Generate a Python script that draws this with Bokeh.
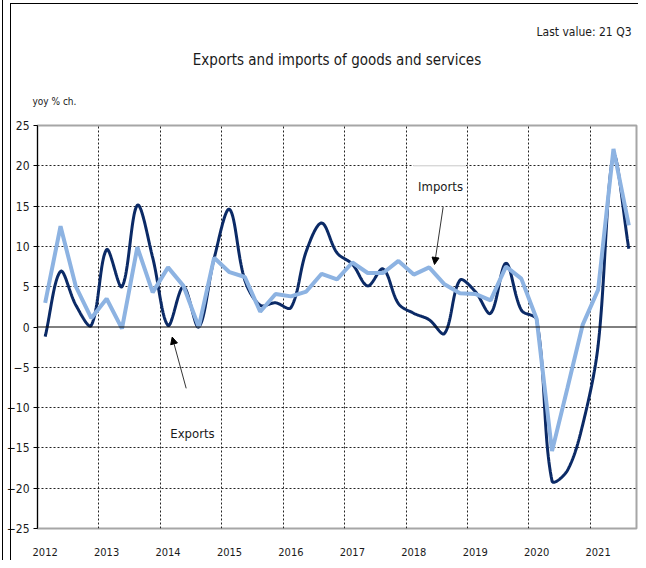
import numpy as np
from bokeh.plotting import figure
from bokeh.models import (Range1d, FixedTicker, Span, Label, Arrow, NormalHead, Title,
                          InlineStyleSheet)
from bokeh.embed import file_html
from bokeh.resources import INLINE

# ---- data (quarterly, 2012 Q1 .. 2021 Q3) ----
years = ["2012", "2013", "2014", "2015", "2016", "2017", "2018", "2019", "2020", "2021"]
exports = [-1.2, 6.9, 2.7, 0.2, 9.6, 5.0, 15.1, 8.6, 0.2, 5.0,
           0.0, 8.5, 14.6, 5.8, 2.7, 3.0, 2.4, 9.4, 12.9, 9.2,
           7.8, 5.1, 7.2, 2.9, 1.7, 0.9, -0.8, 5.8, 4.4, 1.7,
           7.9, 2.1, 0.9, -19.1, -17.8, -12.1, -2.3, 21.2, 9.7]
imports = [3.0, 12.5, 5.0, 1.1, 3.5, -0.2, 9.9, 4.3, 7.4, 5.1,
           0.0, 8.6, 6.8, 6.2, 1.9, 4.1, 3.8, 4.4, 6.6, 5.9,
           8.0, 6.7, 6.7, 8.2, 6.5, 7.4, 5.3, 4.2, 4.1, 3.3,
           7.5, 6.0, 1.0, -15.4, -7.6, 0.3, 4.6, 22.1, 12.6]
y_ticks = [-25, -20, -15, -10, -5, 0, 5, 10, 15, 20, 25]

FONT = "'DejaVu Sans Condensed', 'Liberation Sans', sans-serif"
NAVY = "#0b2a66"
LIGHT = "#8db3e2"
TXT = "#1a1a1a"

n = len(exports)
q = np.arange(n, dtype=float)

# pixel scale used only for the smoothing geometry (Excel-like)
SX, SY = 15.36, 8.06


def smooth(xs, ys, steps=30):
    """Bezier smoothing through every point, control arms scaled by segment lengths."""
    X = np.asarray(xs, float) * SX
    Y = np.asarray(ys, float) * SY
    P = np.stack([X, Y], axis=1)
    m = len(P)
    ctrl_after, ctrl_before = [], []
    for i in range(m):
        prev = P[i - 1] if i > 0 else P[i]
        nxt = P[i + 1] if i < m - 1 else P[i]
        d = nxt - prev
        lp = np.linalg.norm(P[i] - prev)
        ln = np.linalg.norm(nxt - P[i])
        tot = lp + ln if lp + ln > 0 else 1.0
        ctrl_after.append(P[i] + d * (ln / tot) / 3.0)
        ctrl_before.append(P[i] - d * (lp / tot) / 3.0)
    t = np.linspace(0, 1, steps, endpoint=False)[:, None]
    out = []
    for i in range(m - 1):
        p0, c1, c2, p3 = P[i], ctrl_after[i], ctrl_before[i + 1], P[i + 1]
        b = (1 - t) ** 3 * p0 + 3 * (1 - t) ** 2 * t * c1 + 3 * (1 - t) * t ** 2 * c2 + t ** 3 * p3
        out.append(b)
    out.append(P[-1:])
    B = np.concatenate(out)
    return list(B[:, 0] / SX), list(B[:, 1] / SY)


frame_css = InlineStyleSheet(css="""
:host { position: relative; }
:host::before { content: ''; position: absolute; left: 2px; top: 0px; bottom: 0px;
  border-left: 1px solid #000; pointer-events: none; z-index: 10; }
:host::after { content: ''; position: absolute; left: 10px; top: 3px; right: 0px; bottom: 0px;
  border-left: 1px solid #000; border-top: 1px solid #000; pointer-events: none; z-index: 10; }
""")

p = figure(width=638, height=560, output_backend="svg", toolbar_location=None,
           x_range=Range1d(-0.5, n - 0.5), y_range=Range1d(-25, 25),
           min_border_left=37, min_border_right=2, min_border_top=125, min_border_bottom=32,
           stylesheets=[frame_css])
p.title = None
p.background_fill_color = "white"
p.border_fill_color = "white"
p.outline_line_color = "#a6a6a6"
p.outline_line_width = 2

# titles stacked above the frame (first = closest to frame)
t_unit = Title(text="yoy % ch.", align="left", text_font=FONT, text_font_size="10px",
               text_font_style="normal", text_color=TXT, standoff=38, offset=-5)
t_main = Title(text="Exports and imports of goods and services", align="center", text_font=FONT,
               text_font_size="15px", text_font_style="normal", text_color=TXT, standoff=11)
t_last = Title(text="Last value: 21 Q3", align="right", text_font=FONT, text_font_size="12px",
               text_font_style="normal", text_color=TXT, standoff=10, offset=5)
p.add_layout(t_unit, "above")
p.add_layout(t_main, "above")
p.add_layout(t_last, "above")

# axes
p.yaxis.ticker = FixedTicker(ticks=y_ticks)
p.yaxis.axis_line_color = "black"
p.yaxis.axis_line_width = 1
p.yaxis.major_tick_line_color = "black"
p.yaxis.major_tick_out = 4
p.yaxis.major_tick_in = 0
p.yaxis.minor_tick_line_color = None
p.yaxis.major_label_text_font = FONT
p.yaxis.major_label_text_font_size = "12px"
p.yaxis.major_label_text_color = TXT
p.yaxis.major_label_standoff = 4

p.xaxis.ticker = FixedTicker(ticks=[4 * i for i in range(len(years))])
p.xaxis.major_label_overrides = {4 * i: y for i, y in enumerate(years)}
p.xaxis.axis_line_color = None
p.xaxis.major_tick_line_color = None
p.xaxis.minor_tick_line_color = None
p.xaxis.major_label_text_font = FONT
p.xaxis.major_label_text_font_size = "11px"
p.xaxis.major_label_text_color = TXT
p.xaxis.major_label_standoff = 13

# grid
p.xgrid.ticker = FixedTicker(ticks=[4 * i - 0.5 for i in range(1, len(years))])
p.ygrid.ticker = FixedTicker(ticks=[t for t in y_ticks if t not in (0, -25, 25)])
for g in (p.xgrid, p.ygrid):
    g.grid_line_color = "#222222"
    g.grid_line_dash = "2 2"
    g.grid_line_width = 1

p.add_layout(Span(location=0, dimension="width", line_color="black", line_width=1))

# text box behind "Imports"
p.quad(left=[23.98], right=[27.4], bottom=[15.7], top=[20.1], fill_color="white", line_color=None)
p.segment(x0=[23.98], x1=[27.4], y0=[20.0], y1=[20.0], line_color="#c8c8c8", line_width=1)

# series
ex_x, ex_y = smooth(q, exports)
p.line(ex_x, ex_y, line_color=NAVY, line_width=3)
p.line(q, imports, line_color=LIGHT, line_width=4)

# annotations
p.add_layout(Arrow(end=NormalHead(size=7, fill_color="black", line_color="black"),
                   x_start=25.91, y_start=14.87, x_end=25.35, y_end=7.76,
                   line_color="black", line_width=0.8))
p.add_layout(Arrow(end=NormalHead(size=7, fill_color="black", line_color="black"),
                   x_start=9.18, y_start=-7.61, x_end=8.27, y_end=-1.25,
                   line_color="black", line_width=0.8))


def lab(x, y, text, size, align="center"):
    p.add_layout(Label(x=x, y=y, text=text, text_font=FONT, text_font_size=size,
                       text_color=TXT, text_align=align, text_baseline="middle"))


lab(25.74, 17.43, "Imports", "13px")
lab(9.59, -13.2, "Exports", "13px")

open("out.html", "w").write(file_html(p, INLINE))
